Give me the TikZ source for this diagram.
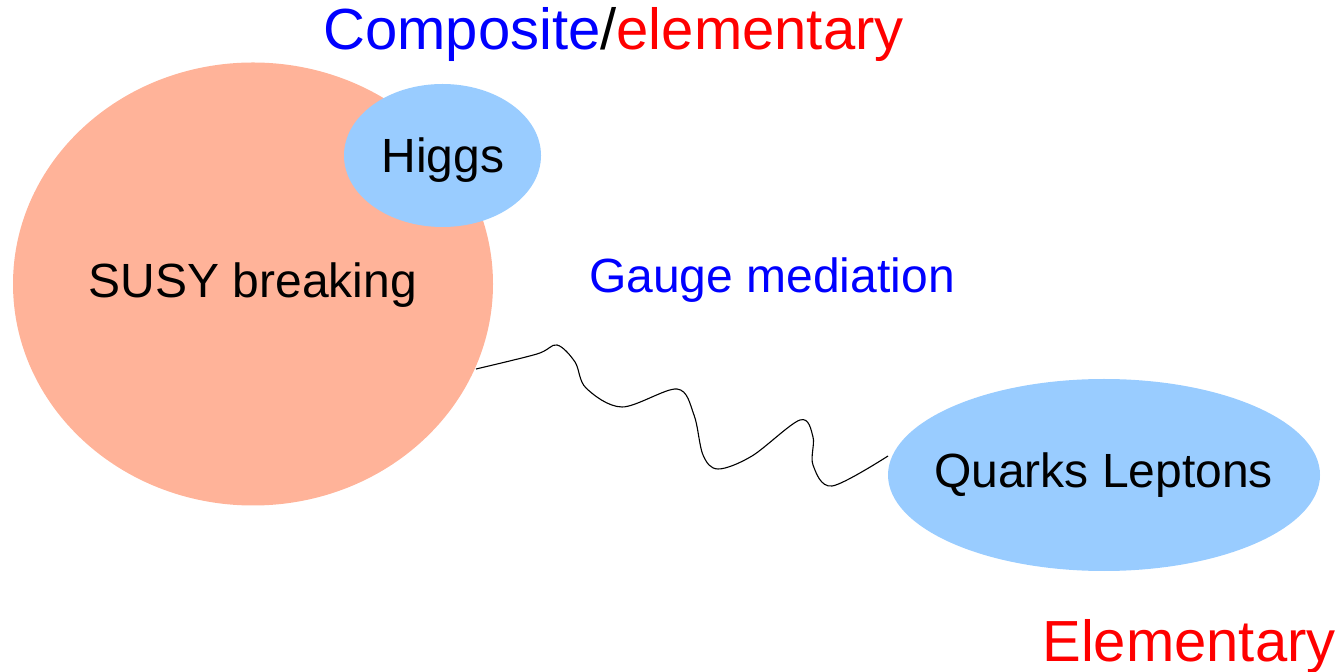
\documentclass[tikz,border=0pt]{standalone}
\usepackage{fontspec}
\setmainfont{Liberation Sans}
\usetikzlibrary{shapes.geometric}
\definecolor{salmon}{RGB}{255,179,153}
\definecolor{lblue}{RGB}{153,204,255}
\begin{document}
\begin{tikzpicture}[x=0.5pt,y=-0.5pt,
  blob/.style={ellipse,inner sep=0pt,draw=none},
  lbl/.style={anchor=base,inner sep=0pt,font=\fontsize{24}{28}\selectfont},
  big/.style={anchor=base,inner sep=0pt,font=\fontsize{29}{34}\selectfont}]
\useasboundingbox (0,0) rectangle (1342,672);
\node[blob,fill=salmon,minimum width=240pt,minimum height=221.5pt] (susy) at (253,284) {};
\node[blob,fill=lblue,minimum width=98.5pt,minimum height=71.5pt] (higgs) at (442.5,155.5) {};
\node[blob,fill=lblue,minimum width=216pt,minimum height=96pt] (ql) at (1104,475) {};
\node[lbl] (susyt) at (253,298) {SUSY breaking};
\node[lbl] (higgst) at (443,173) {Higgs};
\node[lbl] (qlt) at (1103.5,488) {Quarks Leptons};
\node[lbl,text=blue] (gauge) at (772,293) {Gauge mediation};
\node[big] (comp) at (613.5,50) {\textcolor{blue}{Composite}/\textcolor{red}{elementary}};
\node[big,text=red] (elem) at (1189,661) {Elementary};
\coordinate (w0) at (476,369);
\coordinate (w1) at (888,456);
\draw[line width=0.55pt] plot[smooth,tension=0.55] coordinates {(w0) (537,354) (557,345) (575,362) (586,388) (622,407) (677,389) (694,415) (703,455) (718,469) (752,456) (800,420) (813,437) (813,465) (832,486) (w1)};
\end{tikzpicture}
\end{document}
